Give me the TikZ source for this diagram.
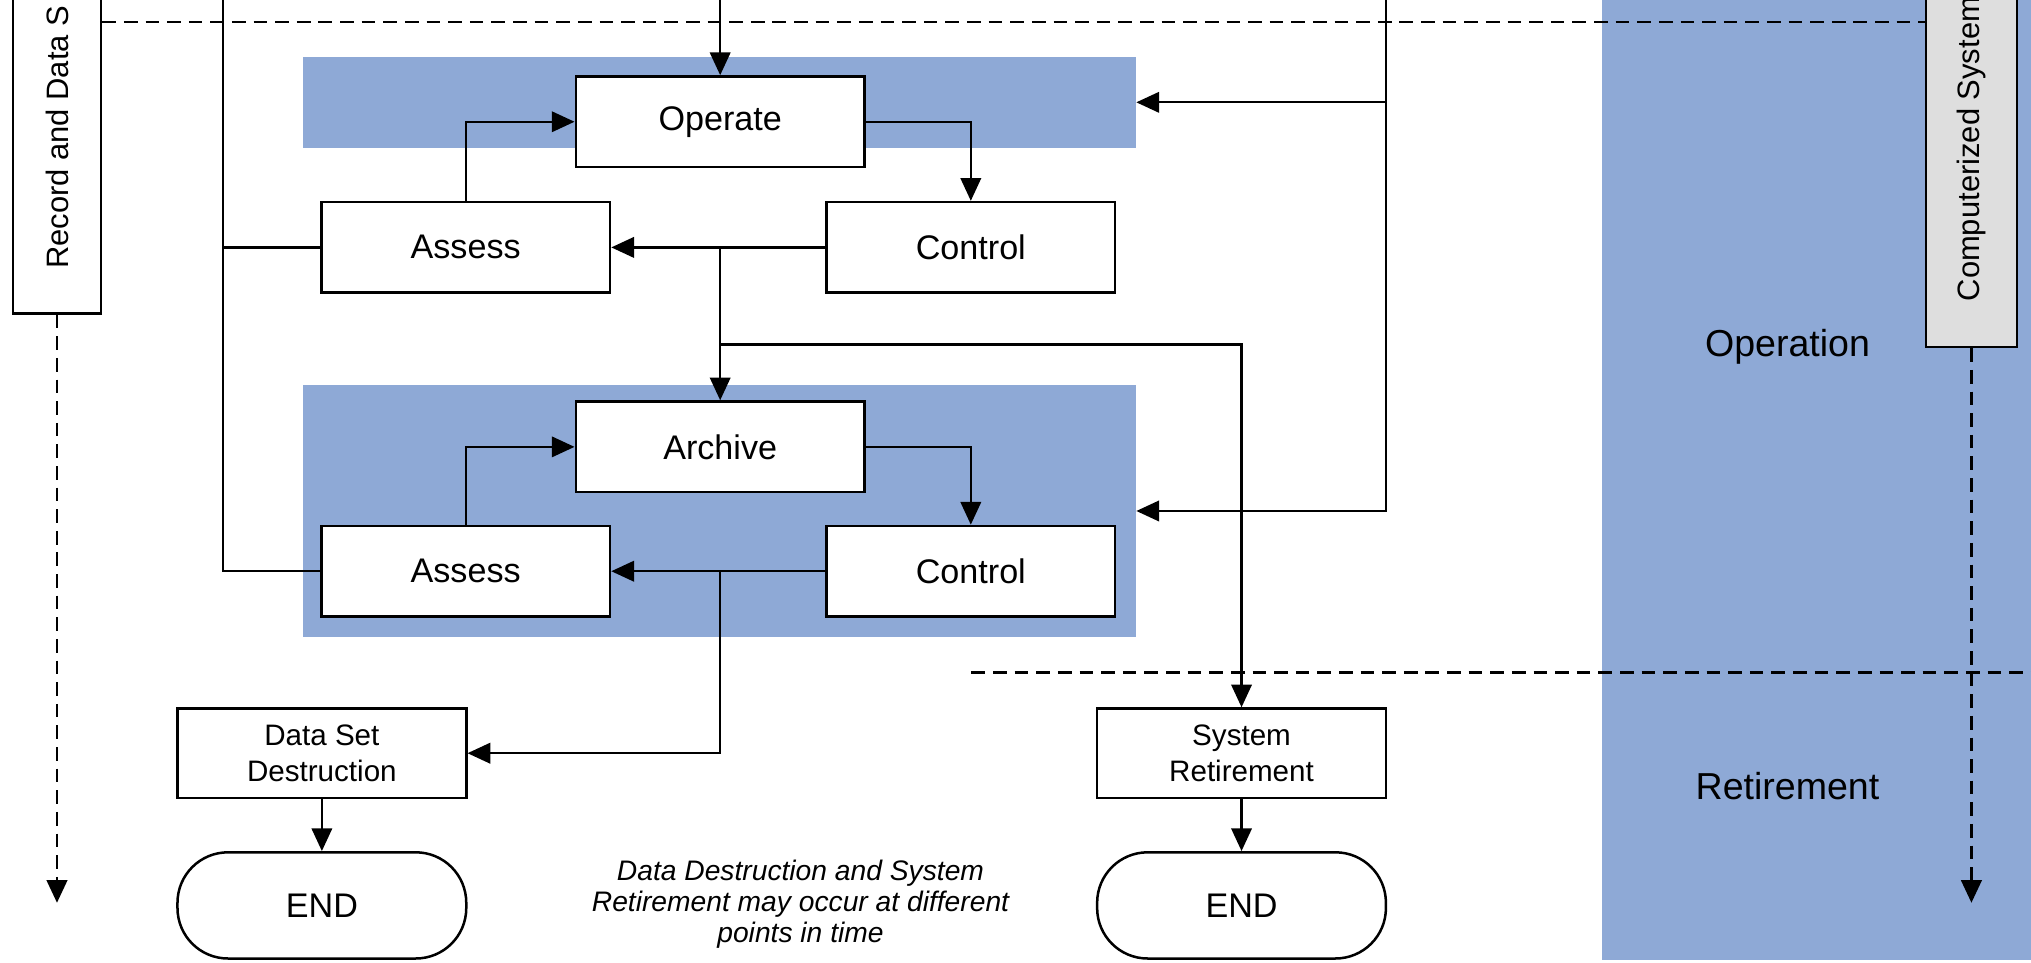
\documentclass[tikz,border=0pt]{standalone}
\usepackage{fontspec}
\setmainfont{Liberation Sans}
\usetikzlibrary{arrows.meta}
\definecolor{bandblue}{RGB}{142,169,214}
\definecolor{lanegray}{RGB}{222,222,222}
\begin{document}
\begin{tikzpicture}[x=0.02cm,y=-0.02cm,
  stepbox/.style={draw, fill=white, line width=1.1pt, minimum width=4.46cm, minimum height=1.4cm, inner sep=0pt, font=\fontsize{15}{18}\selectfont},
  smallbox/.style={stepbox, align=center, minimum height=1.38cm, font=\fontsize{13}{15.5}\selectfont},
  endbox/.style={stepbox, rounded corners=0.78cm, minimum height=1.64cm},
  band/.style={fill=bandblue, inner sep=0pt},
  lanebox/.style={draw, line width=1.1pt, inner sep=0pt},
  lanetext/.style={rotate=90, anchor=west, inner sep=0pt, font=\fontsize{13.6}{16}\selectfont},
  conn/.style={line width=1pt},
  tipshape/.style={-{Triangle[length=10pt,width=9pt]}},
  arr/.style={conn, tipshape},
  dashline/.style={line width=1.3pt, dash pattern=on 6pt off 3.5pt},
  phase/.style={font=\fontsize{16.5}{20}\selectfont}
]
\useasboundingbox (0,0) rectangle (1568,743);
\clip (0,0) rectangle (1568,743);
\fill[white] (0,0) rectangle (1568,743);
% right phase column
\fill[bandblue] (1237,0) rectangle (1568,741);

% bands
\node[band, minimum width=12.86cm, minimum height=1.4cm] (band1) at (555.5,79) {};
\node[band, minimum width=12.86cm, minimum height=3.9cm] (band2) at (555.5,394.5) {};

% lane boxes
\node[lanebox, fill=white, minimum width=1.36cm, minimum height=5.04cm] (rec) at (44,116) {};
\node[lanetext] (rectext) at (44,208) {Record and Data S};
\node[lanebox, fill=lanegray, minimum width=1.4cm, minimum height=5.56cm] (cs) at (1522,129) {};
\node[lanetext] (cstext) at (1522,233) {Computerized System};

% phase dashed lines
\coordinate (topl) at (0,17);
\draw[dashline] (rec.east |- topl) -- (cs.west |- topl);
\coordinate (bdl) at (750,519);
\coordinate (bdr) at (1568,519);
\draw[dashline] (bdl) -- (bdr);

% dashed lifecycle arrows
\coordinate (recend) at (44,697);
\draw[dashline, tipshape] (rec.south) -- (recend);
\coordinate (csend) at (1522,697);
\draw[dashline, tipshape] (cs.south) -- (csend);

% phase labels
\node[phase] (opl) at (1380,268) {Operation};
\node[phase] (retl) at (1380,607) {Retirement};

% process boxes
\node[stepbox] (op) at (556,94) {Operate};
\node[stepbox] (as1) at (359.5,191) {Assess};
\node[stepbox] (ct1) at (749.5,191) {Control};
\node[stepbox] (ar) at (556,345) {Archive};
\node[stepbox] (as2) at (359.5,441) {Assess};
\node[stepbox] (ct2) at (749.5,441) {Control};
\node[smallbox] (dsd) at (248.5,581.5) {Data Set\\Destruction};
\node[smallbox] (sr) at (958.5,581.5) {System\\Retirement};
\node[endbox] (end1) at (248.5,699) {END};
\node[endbox] (end2) at (958.5,699) {END};

\node[font=\fontsize{12.4}{13.7}\selectfont\itshape, align=center] (note) at (618,698)
  {Data Destruction and System\\Retirement may occur at different\\points in time};

% connectors
\coordinate (topin) at (556,0);
\draw[arr] (topin) -- (op.north);
\draw[arr] (as1.north) |- (op.west);
\draw[arr] (op.east) -| (ct1.north);
\draw[arr] (ct1.west) -- (as1.east);
\coordinate (j1) at (556,191);
\draw[arr] (j1) -- (ar.north);
\coordinate (j2) at (556,266);
\draw[arr] (j2) -| (sr.north);

\draw[arr] (as2.north) |- (ar.west);
\draw[arr] (ar.east) -| (ct2.north);
\draw[arr] (ct2.west) -- (as2.east);
\coordinate (j3) at (556,441);
\draw[arr] (j3) |- (dsd.east);

\draw[arr] (dsd.south) -- (end1.north);
\draw[arr] (sr.south) -- (end2.north);

% left feedback line
\coordinate (lt) at (172,0);
\draw[conn] (lt) |- (as2.west);
\coordinate (lj) at (172,191);
\draw[conn] (lj) -- (as1.west);

% right re-entry line
\coordinate (rt) at (1070,0);
\draw[arr] (rt) |- (band2.east);
\coordinate (rj) at (1070,79);
\draw[arr] (rj) -- (band1.east);
\end{tikzpicture}
\end{document}
